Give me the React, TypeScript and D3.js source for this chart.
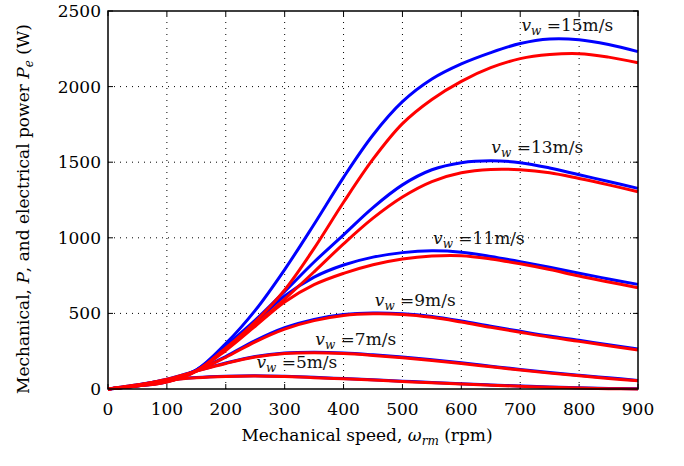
import React from "react";
import * as d3 from "d3";

const speeds = [0, 50, 100, 150, 200, 250, 300, 350, 400, 450, 500, 550, 600, 650, 700, 750, 800, 850, 900];

const mech5 = [0, 28, 58, 76, 85, 88, 84, 77, 69, 61, 52, 43, 35, 27, 20, 13, 8, 4, 1];
const elec5 = [0, 28, 57, 74, 83, 86, 82, 75, 67, 59, 50, 41, 33, 25, 18, 11, 6, 2, 0];
const mech7 = [0, 25, 65, 120, 172, 215, 238, 243, 238, 226, 211, 193, 173, 151, 129, 109, 91, 74, 57];
const elec7 = [0, 25, 64, 118, 169, 211, 234, 239, 234, 222, 207, 189, 169, 147, 125, 105, 87, 70, 54];
const mech9 = [0, 24, 60, 120, 215, 320, 405, 460, 492, 503, 498, 480, 450, 415, 382, 350, 322, 292, 265];
const elec9 = [0, 24, 59, 118, 210, 312, 396, 452, 486, 497, 493, 474, 443, 408, 375, 343, 315, 286, 258];
const mech11 = [0, 22, 55, 125, 265, 440, 615, 740, 820, 872, 902, 914, 905, 877, 842, 805, 765, 728, 692];
const elec11 = [0, 22, 53, 120, 255, 415, 575, 690, 765, 822, 860, 880, 882, 860, 828, 790, 747, 708, 670];
const mech13 = [0, 21, 50, 125, 285, 455, 645, 840, 1020, 1200, 1350, 1450, 1497, 1510, 1497, 1462, 1417, 1372, 1327];
const elec13 = [0, 21, 48, 120, 270, 425, 595, 775, 960, 1130, 1270, 1372, 1430, 1452, 1450, 1430, 1392, 1350, 1305];
const mech15 = [0, 20, 48, 125, 300, 520, 790, 1090, 1400, 1680, 1900, 2050, 2150, 2225, 2285, 2315, 2310, 2278, 2231];
const elec15 = [0, 20, 46, 118, 270, 445, 655, 930, 1235, 1520, 1755, 1915, 2035, 2125, 2185, 2212, 2218, 2195, 2158];

const windSpeeds = ["5", "7", "9", "11", "13", "15"];
const mechSeries = [mech5, mech7, mech9, mech11, mech13, mech15];
const elecSeries = [elec5, elec7, elec9, elec11, elec13, elec15];
// label anchor (start of text) in data units (speed, power)
const labelSpeed = [252, 352, 453, 552, 651, 702];
const labelPower = [137, 293, 549, 959, 1561, 2368];

const xTicks = [0, 100, 200, 300, 400, 500, 600, 700, 800, 900];
const yTicks = [0, 500, 1000, 1500, 2000, 2500];

const W = 684;
const H = 466;
const left = 108;
const right = 638;
const top = 11;
const bottom = 389;
const FONT = "DejaVu Serif, serif";

export default function App() {
  const x = d3.scaleLinear().domain([0, 900]).range([left, right]);
  const y = d3.scaleLinear().domain([0, 2500]).range([bottom, top]);
  const line = d3
    .line<number>()
    .x((_, i) => x(speeds[i]))
    .y((d) => y(d))
    .curve(d3.curveCatmullRom.alpha(0.5));

  return (
    <svg
      width={W}
      height={H}
      style={{ position: "absolute", left: 0, top: 0, background: "#fff", fontFamily: FONT }}
    >
      <rect x={0} y={0} width={W} height={H} fill="#fff" />
      {/* grid */}
      <g stroke="#000" strokeWidth={1} strokeDasharray="1,5">
        {xTicks.slice(1, -1).map((t) => (
          <line key={"gx" + t} x1={x(t)} x2={x(t)} y1={bottom} y2={top} />
        ))}
        {yTicks.slice(1, -1).map((t) => (
          <line key={"gy" + t} x1={left} x2={right} y1={y(t)} y2={y(t)} />
        ))}
      </g>
      {/* ticks inward on all sides */}
      <g stroke="#000" strokeWidth={1}>
        {xTicks.map((t) => (
          <g key={"tx" + t}>
            <line x1={x(t)} x2={x(t)} y1={bottom} y2={bottom - 5} />
            <line x1={x(t)} x2={x(t)} y1={top} y2={top + 5} />
          </g>
        ))}
        {yTicks.map((t) => (
          <g key={"ty" + t}>
            <line x1={left} x2={left + 5} y1={y(t)} y2={y(t)} />
            <line x1={right} x2={right - 5} y1={y(t)} y2={y(t)} />
          </g>
        ))}
      </g>
      {/* curves */}
      <g fill="none" strokeWidth={3} strokeLinejoin="round">
        {mechSeries.map((s, i) => (
          <path key={"m" + i} d={line(s) || ""} stroke="#0000ff" />
        ))}
        {elecSeries.map((s, i) => (
          <path key={"e" + i} d={line(s) || ""} stroke="#ff0000" />
        ))}
      </g>
      {/* frame */}
      <rect x={left} y={top} width={right - left} height={bottom - top} fill="none" stroke="#000" strokeWidth={1.5} />
      {/* tick labels */}
      <g style={{ fontSize: "17px", fontFamily: FONT }} fill="#000">
        {xTicks.map((t) => (
          <text key={"lx" + t} x={x(t)} y={415} textAnchor="middle">
            {t}
          </text>
        ))}
        {yTicks.map((t) => (
          <text key={"ly" + t} x={101} y={y(t) + 6} textAnchor="end">
            {t}
          </text>
        ))}
      </g>
      {/* curve labels */}
      <g style={{ fontSize: "17px", fontFamily: FONT }} fill="#111">
        {windSpeeds.map((w, i) => (
          <text key={"wl" + w} x={x(labelSpeed[i])} y={y(labelPower[i])}>
            <tspan fontStyle="italic">v</tspan>
            <tspan fontStyle="italic" style={{ fontSize: "12px" }} dy={4}>w</tspan>
            <tspan dy={-4}>{" =" + w + "m/s"}</tspan>
          </text>
        ))}
      </g>
      {/* axis titles */}
      <text
        x={367}
        y={441}
        textAnchor="middle"
        fill="#000"
        style={{ fontSize: "17px", fontFamily: FONT }}
      >
        Mechanical speed,{" "}
        <tspan fontStyle="italic">ω</tspan>
        <tspan fontStyle="italic" style={{ fontSize: "12px" }} dy={4}>rm</tspan>
        <tspan dy={-4}> (rpm)</tspan>
      </text>
      <text
        transform="translate(29,209) rotate(-90)"
        textAnchor="middle"
        fill="#000"
        style={{ fontSize: "17px", fontFamily: FONT }}
      >
        Mechanical, <tspan fontStyle="italic">P</tspan>, and electrical power{" "}
        <tspan fontStyle="italic">P</tspan>
        <tspan fontStyle="italic" style={{ fontSize: "12px" }} dy={4}>e</tspan>
        <tspan dy={-4}> (W)</tspan>
      </text>
    </svg>
  );
}
